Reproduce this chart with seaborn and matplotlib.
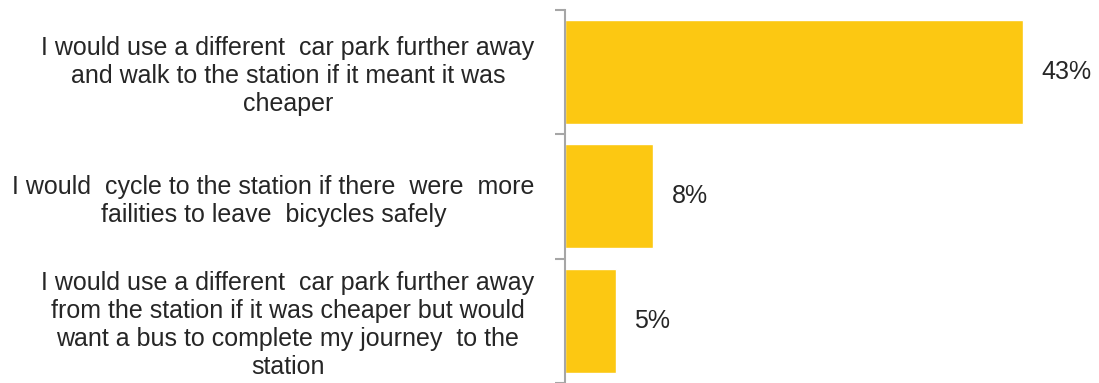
import matplotlib
matplotlib.use("Agg")
import matplotlib.pyplot as plt
import seaborn as sns
import pandas as pd

categories = [
    "I would use a different  car park further away\nand walk to the station if it meant it was\ncheaper",
    "I would  cycle to the station if there  were  more\nfailities to leave  bicycles safely",
    "I would use a different  car park further away\nfrom the station if it was cheaper but would\nwant a bus to complete my journey  to the\nstation",
]
values = [43.0, 8.3, 4.8]

sns.set_theme(style="white")
plt.rcParams['font.family'] = ['Liberation Sans', 'DejaVu Sans']

W, H = 1099, 383
fig = plt.figure(figsize=(W / 100, H / 100), dpi=100)
left, right, top, bottom = 565, 1098, 9.5, 383
ax = fig.add_axes([left / W, 1 - bottom / H, (right - left) / W, (bottom - top) / H])

df = pd.DataFrame({"cat": categories, "val": values})
sns.barplot(data=df, y="cat", x="val", orient="h", color="#FCC812",
            saturation=1, width=0.835, ax=ax)

ax.set_xlim(0, 50)
ax.set_ylim(2.5, -0.5)
ax.set_xlabel("")
ax.set_ylabel("")
ax.xaxis.set_visible(False)
for s in ["top", "right", "bottom"]:
    ax.spines[s].set_visible(False)
ax.spines["left"].set_color("#A6A6A6")
ax.spines["left"].set_linewidth(1.5)

ax.set_yticks([-0.5, 0.5, 1.5, 2.5])
ax.set_yticklabels([])
ax.tick_params(axis="y", which="major", left=True, length=7, width=1.5, color="#A6A6A6")
ax.set_yticks([0, 1, 2], minor=True)
ax.set_yticklabels(categories, minor=True, fontsize=18, color="#262626")
ax.tick_params(axis="y", which="minor", length=0, pad=22)
for t in ax.get_yticklabels(minor=True):
    t.set_multialignment("center")
    t.set_linespacing(1.2)

for i, v in enumerate(values):
    ax.annotate(f"{v:.0f}%", xy=(v, i), xytext=(13, 0), textcoords="offset points",
                ha="left", va="center", fontsize=18, color="#262626")

fig.savefig("out.png", dpi=100)
